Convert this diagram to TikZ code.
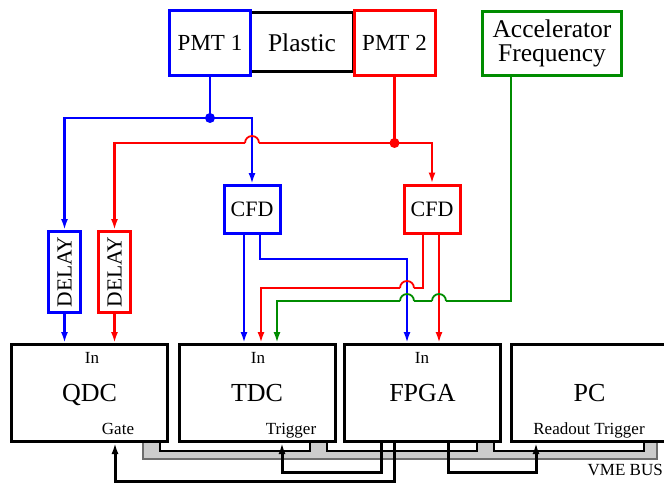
\documentclass[tikz,border=0pt]{standalone}
\usepackage{fontspec}
\setmainfont{Liberation Serif}
\usepackage{graphicx}
\usepackage{tikz}
\usetikzlibrary{arrows.meta,positioning}
\definecolor{accgreen}{RGB}{0,140,0}
\definecolor{busgray}{RGB}{204,204,204}
\definecolor{busedge}{RGB}{110,110,110}

\begin{document}
\begin{tikzpicture}[x=1pt, y=-1pt,
        box/.style={rectangle, draw, line width=3pt, fill=white, align=center, inner sep=2pt},
        unit/.style={box, minimum width=156pt, minimum height=97pt, text height=17.5pt, text depth=0pt, font=\fontsize{26}{26}\selectfont},
        pmt/.style={box, minimum width=81pt, minimum height=65pt, text depth=0pt, font=\fontsize{23}{23}\selectfont},
        cfd/.style={box, minimum width=56pt, minimum height=48pt, text depth=0pt, font=\fontsize{22}{22}\selectfont},
        delay/.style={box, minimum width=32pt, minimum height=81pt, font=\fontsize{21.5}{21.5}\selectfont},
        sub/.style={anchor=base, inner sep=0pt, font=\fontsize{17}{17}\selectfont},
        wire/.style={line width=2.8pt},
        hop/.style={line width=1.8pt},
        sig/.style={line width=3pt},
        arrow/.style={->, >={Latex[length=11pt,width=7pt]}}
    ]
        \clip (0,0) rectangle (664,484);
        % VME bus
        \fill[busgray] (143,443) rectangle (657,459);
        \draw[busedge, line width=1.5pt] (143,443) |- (657,459) -- (657,443);
        \foreach \u in {160,327,494}{
            \fill[white] (\u,442) rectangle (\u+150,451);
            \draw[line width=2pt] (\u,442) |- (\u+150,451) -- (\u+150,442);
        }
        % modules
        \node[unit] (qdc) at (89.5,393) {QDC};
        \node[unit] (tdc) at (257,393) {TDC};
        \node[unit] (fpga) at (422.5,393) {FPGA};
        \node[unit] (pc) at (589.5,393) {PC};
        \node[sub] (qdcIn) at (92,363) {In};
        \node[sub] (tdcIn) at (258,363) {In};
        \node[sub] (fpgaIn) at (422,363) {In};
        \node[sub] (gate) at (118,434) {Gate};
        \node[sub] (trig) at (291,434) {Trigger};
        \node[sub] (readout) at (589,434) {Readout Trigger};
        \node[sub, anchor=base east] (vme) at (663,475) {VME BUS};
        % detector
        \node[box, minimum width=103pt, minimum height=59pt, text depth=0pt, font=\fontsize{25.5}{25.5}\selectfont] (plastic) at (302,42.5) {Plastic};
        \node[pmt, draw=blue] (pmtA) at (210,43) {PMT 1};
        \node[pmt, draw=red] (pmtB) at (394.5,43) {PMT 2};
        \node[box, draw=accgreen, minimum width=139pt, minimum height=64pt, font=\fontsize{25.5}{24}\selectfont] (accel) at (552,43.5) {Accelerator\\Frequency};
        \node[cfd, draw=blue] (cfdA) at (252,209.5) {CFD};
        \node[cfd, draw=red] (cfdB) at (432,209) {CFD};
        \node[delay, draw=blue] (delA) at (64.5,272) {\rotatebox{90}{DELAY}};
        \node[delay, draw=red] (delB) at (114.5,272) {\rotatebox{90}{DELAY}};
        % splits
        \coordinate (splitA) at (pmtA.south |- 0,118);
        \coordinate (splitB) at (pmtB.south |- 0,143);
        \coordinate (hopA) at (cfdA.north |- splitB);
        \draw[wire, blue] (pmtA.south) -- (splitA);
        \fill[blue] (splitA) circle[radius=5pt];
        \draw[wire, blue, arrow] (splitA) -| (delA.north);
        \draw[wire, blue, arrow] (splitA) -| (cfdA.north);
        \draw[wire, red] (pmtB.south) -- (splitB);
        \fill[red] (splitB) circle[radius=5pt];
        \draw[wire, red, arrow] (splitB) -| (cfdB.north);
        \draw[wire, red] (splitB) -- ([xshift=7pt]hopA);
        \draw[hop, red] ([xshift=7pt]hopA) arc[start angle=0, end angle=180, radius=7pt];
        \draw[wire, red, arrow] ([xshift=-7pt]hopA) -| (delB.north);
        \draw[wire, blue, arrow] (delA.south) -- (delA.south |- qdc.north);
        \draw[wire, red, arrow] (delB.south) -- (delB.south |- qdc.north);
        % timing
        \coordinate (cfdAout1) at ([xshift=-8pt]cfdA.south);
        \coordinate (cfdAout2) at ([xshift=8pt]cfdA.south);
        \coordinate (cfdBout1) at ([xshift=-9pt]cfdB.south);
        \coordinate (cfdBout2) at ([xshift=7pt]cfdB.south);
        \coordinate (accOut) at ([xshift=-41pt]accel.south);
        \draw[wire, blue, arrow] (cfdAout1) -- (cfdAout1 |- tdc.north);
        \draw[wire, blue, arrow] (cfdAout2) |- (407,259) -- (407,0 |- fpga.north);
        \draw[wire, red, arrow] (cfdBout2) -- (cfdBout2 |- fpga.north);
        \draw[wire, red] (cfdBout1) |- (414,288);
        \draw[hop, red] (414,288) arc[start angle=0, end angle=180, radius=7pt];
        \draw[wire, red, arrow] (400,288) -| (261,0 |- tdc.north);
        \draw[wire, accgreen] (accOut) |- (446,301);
        \draw[hop, accgreen] (446,301) arc[start angle=0, end angle=180, radius=7pt];
        \draw[wire, accgreen] (432,301) -- (414,301);
        \draw[hop, accgreen] (414,301) arc[start angle=0, end angle=180, radius=7pt];
        \draw[wire, accgreen, arrow] (400,301) -| (277,0 |- tdc.north);
        % triggers
        \draw[sig, arrow] (394,0 |- fpga.south) |- (115,481) -- (115,0 |- qdc.south);
        \draw[sig, arrow] (381,0 |- fpga.south) |- (282,472) -- (282,0 |- tdc.south);
        \draw[sig, arrow] (448,0 |- fpga.south) |- (536,472) -- (536,0 |- pc.south);
    \end{tikzpicture}
\end{document}
